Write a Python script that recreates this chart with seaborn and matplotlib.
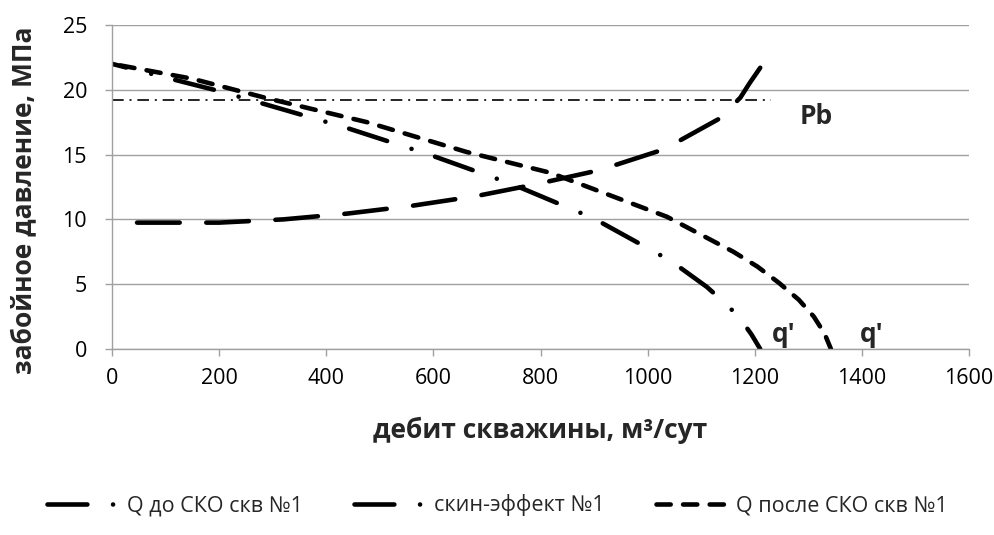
import matplotlib
matplotlib.use("Agg")
import numpy as np
import matplotlib.pyplot as plt
import seaborn as sns
from matplotlib.lines import Line2D

# readings from the chart: дебит (м3/сут) vs забойное давление (МПа)
q_before_x = [0, 118, 200, 276, 435, 592, 748, 899, 1043, 1110, 1140, 1170, 1194, 1210]
q_before_y = [22.0, 20.76, 19.9, 19.0, 17.1, 15.0, 12.7, 10.08, 6.8, 4.8, 3.7, 2.5, 1.1, 0.0]

skin_x = [0, 200, 320, 440, 560, 680, 790, 910, 1030, 1135, 1173, 1190, 1210]
skin_y = [9.75, 9.75, 10.0, 10.45, 11.05, 11.8, 12.7, 13.8, 15.4, 17.8, 19.4, 20.5, 21.7]

q_after_x = [0, 150, 289, 476, 662, 818, 1036, 1160, 1205, 1245, 1282, 1310, 1330, 1342]
q_after_y = [22.0, 20.85, 19.35, 17.5, 15.2, 13.6, 10.2, 7.5, 6.35, 5.1, 3.8, 2.5, 1.2, 0.0]

pb_x = [0, 1231]
pb_y = [19.2, 19.2]

labels = ["Q до СКО скв №1", "скин-эффект №1", "Q после СКО скв №1"]
x_ticks = [0, 200, 400, 600, 800, 1000, 1200, 1400, 1600]
y_ticks = [0, 5, 10, 15, 20, 25]

sns.set_theme(style="white")
plt.rcParams["font.family"] = ["Open Sans", "DejaVu Sans"]

fig = plt.figure(figsize=(9.95, 5.35), dpi=100)
ax = fig.add_axes([0.1126, 0.3477, 0.8614, 0.6056])

lw = 3.3
dash_dot = (8.7, 5.6, 0.01, 5.4)
long_dash = (9.3, 5.8)
short_dash = (3.1, 2.7)

sns.lineplot(x=q_before_x, y=q_before_y, ax=ax, color="black", lw=lw,
             sort=False, estimator=None)
sns.lineplot(x=skin_x, y=skin_y, ax=ax, color="black", lw=lw,
             sort=False, estimator=None)
sns.lineplot(x=q_after_x, y=q_after_y, ax=ax, color="black", lw=lw,
             sort=False, estimator=None)
sns.lineplot(x=pb_x, y=pb_y, ax=ax, color="black", lw=1.2,
             sort=False, estimator=None)

ax.set_xlim(0, 1600)
ax.set_ylim(0, 25)


def end_on_dash(line, pattern, phase):
    # shift the dash pattern so the curve finishes inside a dash
    pts = ax.transData.transform(line.get_xydata())
    length = np.hypot(*np.diff(pts, axis=0).T).sum() * 72 / fig.dpi / lw
    offset = (phase - length) % sum(pattern)
    line.set_linestyle((offset, pattern))
    line.set_dash_capstyle("round")


l1, l2, l3, l4 = ax.lines[-4:]
end_on_dash(l1, dash_dot, 0.6 * dash_dot[0])
end_on_dash(l2, long_dash, 0.95 * long_dash[0])
end_on_dash(l3, short_dash, 0.9 * short_dash[0])
l4.set_dashes((7, 3.5, 1.2, 3.5))

ax.text(1314, 17.9, "Pb", fontsize=19, fontweight="bold", ha="center", va="center")
ax.text(1253, 1.1, "q'", fontsize=19, fontweight="bold", ha="center", va="center")
ax.text(1418, 1.1, "q'", fontsize=19, fontweight="bold", ha="center", va="center")

ax.set_xticks(x_ticks)
ax.set_yticks(y_ticks)
ax.grid(axis="y", color="#a0a0a0", lw=1)
ax.grid(axis="x", visible=False)
for side in ["top", "right"]:
    ax.spines[side].set_visible(False)
for side in ["left", "bottom"]:
    ax.spines[side].set_color("#a0a0a0")
    ax.spines[side].set_linewidth(1)
ax.tick_params(axis="both", which="major", colors="#a0a0a0", labelcolor="black",
               labelsize=15.5, length=5, width=1, direction="out")
ax.tick_params(axis="x", pad=9, bottom=True)
ax.tick_params(axis="y", pad=13, left=True)

ax.set_xlabel("дебит скважины, м³/сут", fontsize=19, fontweight="bold")
ax.set_ylabel("забойное давление, МПа", fontsize=19, fontweight="bold")
ax.xaxis.set_label_coords(0.5, -0.21)
ax.yaxis.set_label_coords(-0.087, 0.46)

handles = [
    Line2D([], [], color="black", lw=lw, dashes=dash_dot, dash_capstyle="round"),
    Line2D([], [], color="black", lw=lw, dashes=dash_dot, dash_capstyle="round"),
    Line2D([], [], color="black", lw=lw, dashes=short_dash, dash_capstyle="round"),
]
fig.legend(handles, labels, loc="center", bbox_to_anchor=(0.5, 0.056), ncol=3,
           frameon=False, fontsize=15.5, handlelength=3.4, handletextpad=0.3,
           columnspacing=2.4)

fig.savefig("out.png", dpi=100)
